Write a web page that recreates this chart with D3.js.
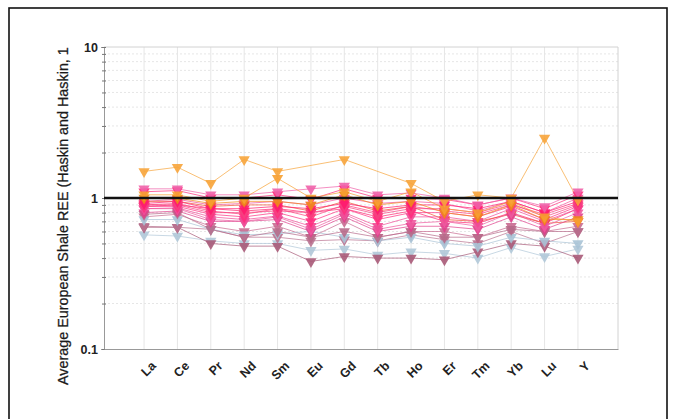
<!DOCTYPE html>
<html><head><meta charset="utf-8">
<script src="https://cdn.jsdelivr.net/npm/d3@7"></script>
<style>html,body{margin:0;padding:0;background:#fff;}svg{display:block;}</style>
</head><body>
<svg id="c" width="676" height="419"></svg>
<script>
const categories = ["La","Ce","Pr","Nd","Sm","Eu","Gd","Tb","Ho","Er","Tm","Yb","Lu","Y"];
const yTickLabels = ["0.1","1","10"];
const yTickValues = [0.1, 1, 10];
const yTitle = "Average European Shale REE (Haskin and Haskin, 1";
const referenceValue = 1;

const seriesNames = ["S1","S2","S3","S4","S5","S6","S7","S8","S9","S10","S11","S12","S13","S14","S15","S16","S17","S18","S19","S20","S21"];
const seriesColors = ["#f7a43a","#f7a030","#f08a1a","#f060a8","#ff2a7a","#ff1a6e","#f5407f","#ff2d80","#f04a95","#ff3a7a","#ee5aa0","#e03f8c","#b76a8a","#a9c3d6","#b97290","#a85a78","#b0c8d8","#f05030","#f2509a","#ff2570","#c86a90"];
const seriesValues = [
  [1.5, 1.6, 1.25, 1.8, 1.5, null, 1.8, null, 1.25, 0.95, 1.05, 1.0, 2.5, 0.97],
  [1.05, 1.05, 0.95, 1.0, 1.35, 1.0, 1.1, 0.95, 1.1, 0.85, 0.8, 0.95, 0.75, 0.7],
  [1.0, 1.0, 0.92, 0.95, 0.95, 0.9, 1.05, 0.9, 0.95, 0.8, 0.75, 0.9, 0.72, 0.72],
  [1.15, 1.15, 1.05, 1.05, 1.1, 1.15, 1.2, 1.05, 1.08, 1.0, 0.9, 1.0, 0.88, 1.1],
  [1.1, 1.12, 1.0, 1.0, 1.05, 0.98, 1.15, 1.0, 1.0, 0.98, 0.9, 1.0, 0.85, 1.05],
  [0.92, 0.95, 0.85, 0.85, 0.88, 0.85, 0.92, 0.85, 0.9, 0.9, 0.85, 0.95, 0.8, 0.95],
  [0.9, 0.9, 0.8, 0.8, 0.82, 0.8, 0.88, 0.78, 0.85, 0.85, 0.8, 0.92, 0.75, 0.9],
  [0.88, 0.88, 0.78, 0.75, 0.8, 0.7, 0.85, 0.72, 0.8, 0.8, 0.75, 0.88, 0.72, 0.88],
  [0.85, 0.86, 0.75, 0.72, 0.76, 0.65, 0.8, 0.65, 0.75, 0.75, 0.7, 0.85, 0.7, 0.85],
  [0.9, 0.92, 0.82, 0.78, 0.85, 0.75, 0.9, 0.8, 0.88, 0.82, 0.78, 0.9, 0.78, 0.92],
  [0.85, 0.85, 0.72, 0.7, 0.75, 0.62, 0.78, 0.62, 0.68, 0.7, 0.65, 0.8, 0.65, 0.8],
  [0.8, 0.82, 0.7, 0.7, 0.72, 0.6, 0.75, 0.6, 0.65, 0.65, 0.62, 0.75, 0.62, 0.75],
  [0.78, 0.8, 0.62, 0.55, 0.6, 0.55, 0.6, 0.55, 0.6, 0.55, 0.55, 0.62, 0.6, 0.6],
  [0.72, 0.72, 0.62, 0.57, 0.58, 0.6, 0.55, 0.52, 0.55, 0.5, 0.48, 0.55, 0.52, 0.5],
  [0.65, 0.64, 0.62, 0.55, 0.55, 0.52, 0.53, 0.52, 0.57, 0.53, 0.5, 0.6, 0.5, 0.6],
  [0.64, 0.64, 0.5, 0.48, 0.48, 0.38, 0.41, 0.4, 0.4, 0.39, 0.44, 0.5, 0.48, 0.4],
  [0.57, 0.56, 0.52, 0.5, 0.5, 0.45, 0.46, 0.42, 0.44, 0.43, 0.4, 0.47, 0.41, 0.46],
  [0.95, 0.95, 0.88, 0.9, 0.9, 0.82, 0.95, 0.82, 0.88, 0.72, 0.7, 0.78, 0.68, 0.7],
  [0.95, 0.98, 0.9, 0.92, 0.95, 0.9, 1.0, 0.92, 0.95, 0.92, 0.82, 0.95, 0.8, 1.0],
  [0.88, 0.9, 0.85, 0.82, 0.85, 0.8, 0.85, 0.75, 0.82, 0.7, 0.68, 0.8, 0.68, 0.85],
  [0.75, 0.78, 0.65, 0.6, 0.65, 0.55, 0.7, 0.55, 0.6, 0.6, 0.55, 0.65, 0.6, 0.65]
];

const svg = d3.select("#c");
const L = 104, R = 618, T = 47, B = 349;
const x = d3.scalePoint().domain(categories).range([L, R]).padding(1.2);
const y = d3.scaleLog().domain([0.1, 10]).range([B, T]);

// outer frame
svg.append("rect").attr("x", 9).attr("y", 8).attr("width", 658).attr("height", 430)
  .attr("fill", "none").attr("stroke", "#111").attr("stroke-width", 1.6);

// minor gridlines
const minor = [];
[0.1, 1].forEach(d => { for (let k = 2; k <= 9; k++) minor.push(d * k); });
svg.append("g").selectAll("line").data(minor).join("line")
  .attr("x1", L).attr("x2", R).attr("y1", d => y(d)).attr("y2", d => y(d))
  .attr("stroke", "#e6e6e6").attr("stroke-width", 1).attr("stroke-dasharray", "2,2");

// vertical gridlines
svg.append("g").selectAll("line").data(categories).join("line")
  .attr("x1", d => x(d)).attr("x2", d => x(d)).attr("y1", T).attr("y2", B)
  .attr("stroke", "#e6e6e6").attr("stroke-width", 1);

// plot frame
svg.append("line").attr("x1", L).attr("x2", R).attr("y1", T).attr("y2", T).attr("stroke", "#d2d2d2");
svg.append("line").attr("x1", R).attr("x2", R).attr("y1", T).attr("y2", B).attr("stroke", "#d2d2d2");

// axes
const yAxis = d3.axisLeft(y).tickValues(minor.concat(yTickValues)).tickSize(3).tickFormat(() => "");
const gy = svg.append("g").attr("transform", `translate(${L},0)`).call(yAxis);
gy.select(".domain").attr("stroke", "#999");
gy.selectAll(".tick line").attr("stroke", "#777").attr("x2", 2).attr("x1", -2);

svg.append("g").selectAll("text").data(yTickValues).join("text")
  .attr("x", 98).attr("y", d => y(d)).attr("dy", "0.36em").attr("text-anchor", "end")
  .attr("font-family", "Liberation Sans, Arial, sans-serif").attr("font-size", 12.5).attr("font-weight", "bold")
  .attr("fill", "#222").text((d, i) => yTickLabels[i]);

const xAxis = d3.axisBottom(x).tickSize(0).tickFormat("");
const gx = svg.append("g").attr("transform", `translate(0,${B})`).call(xAxis);
gx.select(".domain").attr("stroke", "#999");

svg.append("g").selectAll("text").data(categories).join("text")
  .attr("transform", d => `translate(${x(d) + 6},${B + 11}) rotate(-45)`)
  .attr("text-anchor", "end").attr("dy", "0.75em")
  .attr("font-family", "Liberation Sans, Arial, sans-serif").attr("font-size", 12.5).attr("font-weight", "bold")
  .attr("fill", "#222").text(d => d);

// y title (clipped at top), sized to span the reference length
svg.append("clipPath").attr("id", "tclip").append("rect").attr("x", 0).attr("y", 44).attr("width", 100).attr("height", 400);
const tt = svg.append("g").attr("clip-path", "url(#tclip)")
  .append("text")
  .attr("transform", "rotate(-90)").attr("x", -385).attr("y", 68)
  .attr("font-family", "Liberation Sans, Arial, sans-serif").attr("font-size", 13)
  .attr("fill", "#1a1a1a").attr("stroke", "#1a1a1a").attr("stroke-width", 0.25).text(yTitle);
const len = tt.node().getComputedTextLength();
tt.attr("font-size", 13 * 338 / len);

// series
const line = d3.line().x(d => x(d.c)).y(d => y(d.v));
const tri = d3.symbol().type(d3.symbolTriangle).size(55);
const gS = svg.append("g");
const order = d3.range(seriesValues.length).reverse();
order.forEach(i => {
  const pts = categories.map((c, j) => ({c, v: seriesValues[i][j]})).filter(d => d.v != null);
  gS.append("path").datum(pts).attr("d", line).attr("fill", "none")
    .attr("stroke", seriesColors[i]).attr("stroke-width", 1).attr("stroke-opacity", 0.7);
});
order.forEach(i => {
  const pts = categories.map((c, j) => ({c, v: seriesValues[i][j]})).filter(d => d.v != null);
  gS.append("g").selectAll("path").data(pts).join("path")
    .attr("d", tri).attr("transform", d => `translate(${x(d.c)},${y(d.v)}) rotate(180)`)
    .attr("fill", seriesColors[i]).attr("fill-opacity", 0.9);
});

// reference line at 1
svg.append("line").attr("x1", L).attr("x2", R).attr("y1", y(referenceValue)).attr("y2", y(referenceValue))
  .attr("stroke", "#111").attr("stroke-width", 2.4);
</script>
</body></html>
